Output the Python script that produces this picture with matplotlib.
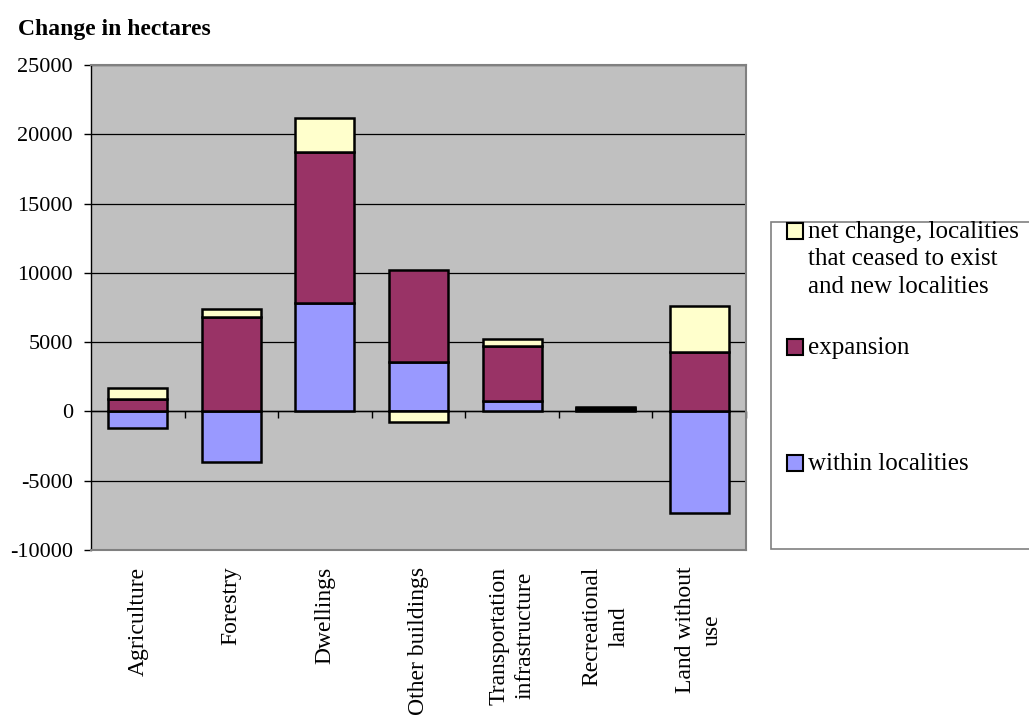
import numpy as np
import matplotlib
matplotlib.use("Agg")
import matplotlib.pyplot as plt
from matplotlib.patches import Rectangle

plt.rcParams['font.family'] = ['Liberation Serif', 'DejaVu Serif']
plt.rcParams['axes.unicode_minus'] = False

categories = ["Agriculture", "Forestry", "Dwellings", "Other buildings",
              "Transportation\ninfrastructure", "Recreational\nland", "Land without\nuse"]
within = [-1225, -3675, 7830, 3550, 740, 100, -7330]
expansion = [865, 6795, 10900, 6650, 4010, 150, 4270]
net_change = [815, 600, 2450, -790, 485, 50, 3320]

series = [
    ("within localities", within, "#9999FF"),
    ("expansion", expansion, "#993366"),
    ("net change, localities\nthat ceased to exist\nand new localities", net_change, "#FFFFCC"),
]

fig = plt.figure(figsize=(10.29, 7.16), dpi=100)
W, H = 1029, 716
ax = fig.add_axes([91 / W, 1 - 550 / H, (746 - 91) / W, (550 - 65) / H])
ax.set_facecolor("#C0C0C0")

x = np.arange(len(categories))
pos = np.zeros(len(categories))
neg = np.zeros(len(categories))
for name, vals, color in series:
    vals = np.array(vals, dtype=float)
    bottom = np.where(vals >= 0, pos, neg)
    ax.bar(x, vals, 0.63, bottom=bottom, color=color, edgecolor="black",
           linewidth=1.8, zorder=3)
    pos = np.where(vals >= 0, pos + vals, pos)
    neg = np.where(vals < 0, neg + vals, neg)

ax.set_xlim(-0.5, len(categories) - 0.5)
ax.set_ylim(-10000, 25000)
ax.set_yticks(np.arange(-10000, 25001, 5000))
ax.yaxis.grid(True, color="black", linewidth=0.9, zorder=1)
ax.set_axisbelow(True)
ax.tick_params(axis="y", labelsize=16, length=5, width=1, direction="out", pad=8)

ax.set_xticks(x)
ax.set_xticklabels(categories, rotation=90, fontsize=17)
for lbl in ax.get_xticklabels():
    lbl.set_linespacing(1.35)
ax.tick_params(axis="x", length=0, pad=12)

for side in ["top", "right", "bottom"]:
    ax.spines[side].set_color("#808080")
    ax.spines[side].set_linewidth(1.5)
ax.spines["left"].set_color("black")
ax.spines["left"].set_linewidth(1)

# category axis at zero with boundary ticks
ax.axhline(0, color="black", linewidth=1, zorder=2)
sec = ax.secondary_xaxis(10000 / 35000)
sec.set_xticks(np.arange(0.5, len(categories), 1.0))
sec.tick_params(length=5, width=1, direction="out", labelbottom=False, labeltop=False)
sec.spines["bottom"].set_visible(False)
sec.spines["top"].set_visible(False)

fig.text(18 / W, 1 - 35 / H, "Change in hectares", fontsize=17, fontweight="bold",
         va="baseline", ha="left")

# legend box
fig.patches.append(Rectangle((771 / W, 1 - 549 / H), (1040 - 771) / W, (549 - 222) / H,
                             transform=fig.transFigure, facecolor="white",
                             edgecolor="#808080", linewidth=1.2))
legend_rows = [(series[2], 239), (series[1], 355), (series[0], 471)]
for (name, vals, color), yb in legend_rows:
    fig.patches.append(Rectangle((787 / W, 1 - yb / H), 16 / W, 16 / H,
                                 transform=fig.transFigure, facecolor=color,
                                 edgecolor="black", linewidth=1.5))
    fig.text(808 / W, 1 - (yb - 18) / H, name, fontsize=18, va="top", ha="left",
             linespacing=1.32)

fig.savefig("out.png", dpi=100)
